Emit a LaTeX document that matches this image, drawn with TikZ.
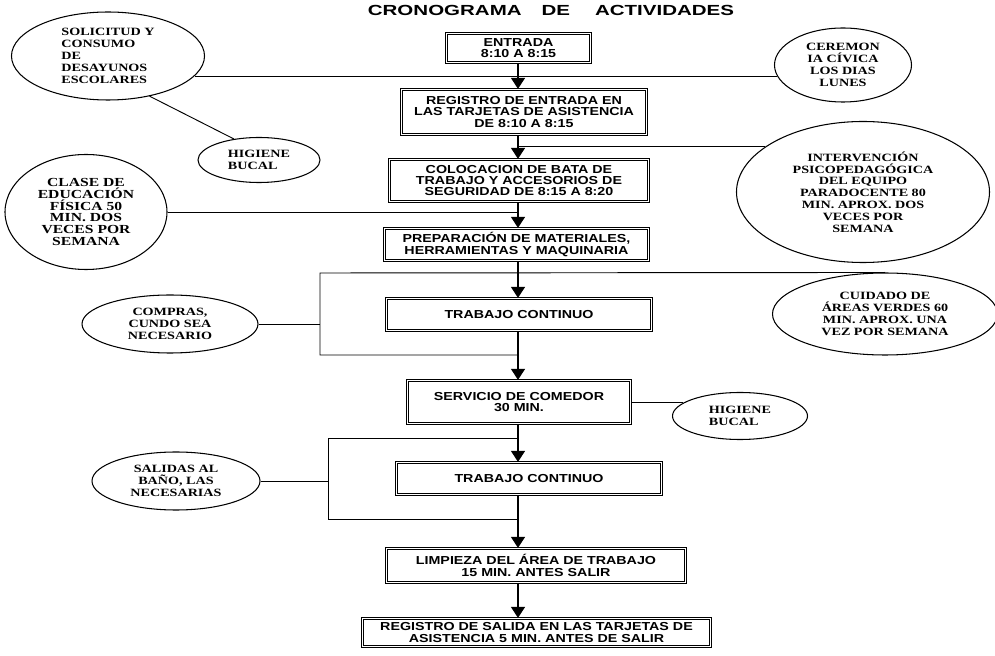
\documentclass[tikz,border=0pt]{standalone}
\usepackage{fontspec}
\usetikzlibrary{positioning,shapes.geometric,arrows.meta,calc}
\newfontfamily\cajafont[FakeStretch=1.23]{Liberation Sans}
\newfontfamily\ovalofont[FakeStretch=1.27]{Liberation Serif}
\newfontfamily\titulofont[FakeStretch=1.4]{Liberation Sans}
\tikzset{
	%Define standard arrow tip
	>={Triangle[length=3.3mm,width=4.2mm]},
	%Define style for boxes
	caja/.style={
		rectangle,
		draw=black, line width=0.75pt,
		double, double distance=1.3pt,
		align=center,
		inner sep=2pt,
		font=\cajafont\bfseries\fontsize{9.9}{9.8}\selectfont},
	%Define style for ovals
	ovalo/.style={
		ellipse,
		draw=black, line width=0.9pt,
		inner sep=0pt,
		align=center,
		font=\ovalofont\bfseries\fontsize{9.5}{10.1}\selectfont},
	% Define arrow style
	pil/.style={
		->,
		line width=1pt},
	% Define connector style
	linea/.style={
		line width=0.8pt}
}

\begin{document}
\begin{tikzpicture}[x=0.03cm, y=-0.03cm]
	\useasboundingbox (0,0) rectangle (995,656);
	\coordinate (eje) at (518,0);
	\node[font=\titulofont\bfseries\fontsize{12.5}{14}\selectfont] (titulo) at (551,10)
		{CRONOGRAMA\hspace{0.6cm}DE\hspace{0.75cm}ACTIVIDADES};
	% central column
	\node[caja,minimum width=4.33cm,minimum height=0.88cm] (entrada) at (518.5,48) {ENTRADA\\8:10 A 8:15};
	\node[caja,minimum width=7.36cm,minimum height=1.36cm] (regent) at (524,112) {REGISTRO DE ENTRADA EN\\LAS TARJETAS DE ASISTENCIA\\DE 8:10 A 8:15};
	\node[caja,minimum width=7.78cm,minimum height=1.27cm] (bata) at (519,180.5) {COLOCACION DE BATA DE\\TRABAJO Y ACCESORIOS DE\\SEGURIDAD DE 8:15 A 8:20};
	\node[caja,minimum width=7.93cm,minimum height=0.97cm] (prep) at (516.5,244.5) {PREPARACIÓN DE MATERIALES,\\HERRAMIENTAS Y MAQUINARIA};
	\node[caja,minimum width=7.96cm,minimum height=0.97cm] (trab1) at (519,314.5) {TRABAJO CONTINUO};
	\node[caja,minimum width=6.70cm,minimum height=1.30cm] (comedor) at (519,402) {SERVICIO DE COMEDOR\\30 MIN.};
	\node[caja,minimum width=7.96cm,minimum height=0.97cm] (trab2) at (529,478.5) {TRABAJO CONTINUO};
	\node[caja,minimum width=8.98cm,minimum height=1.03cm] (limpieza) at (536,565.5) {LIMPIEZA DEL ÁREA DE TRABAJO\\15 MIN. ANTES SALIR};
	\node[caja,minimum width=10.45cm,minimum height=0.85cm] (regsal) at (536.5,632.5) {REGISTRO DE SALIDA EN LAS TARJETAS DE\\ASISTENCIA 5 MIN. ANTES DE SALIR};
	% ovals
	\node[ovalo,align=left,minimum width=5.79cm,minimum height=2.64cm] (sol) at (108,56) {SOLICITUD Y\\CONSUMO\\DE\\DESAYUNOS\\ESCOLARES};
	\node[ovalo,align=left,minimum width=3.66cm,minimum height=1.35cm] (hig1) at (259,160) {HIGIENE\\BUCAL};
	\node[ovalo,font=\ovalofont\bfseries\fontsize{10.5}{10}\selectfont,minimum width=4.86cm,minimum height=3.45cm] (clase) at (86,212) {CLASE DE\\EDUCACIÓN\\FÍSICA 50\\MIN. DOS\\VECES POR\\SEMANA};
	\node[ovalo,minimum width=5.28cm,minimum height=1.74cm] (compras) at (170,324) {COMPRAS,\\CUNDO SEA\\NECESARIO};
	\node[ovalo,minimum width=5.04cm,minimum height=1.74cm] (salidas) at (176,481) {SALIDAS AL\\BAÑO, LAS\\NECESARIAS};
	\node[ovalo,minimum width=4.11cm,minimum height=2.22cm] (cer) at (843,65) {CEREMON\\IA CÍVICA\\LOS DIAS\\LUNES};
	\node[ovalo,minimum width=7.59cm,minimum height=4.23cm] (interv) at (863,192) {INTERVENCIÓN\\PSICOPEDAGÓGICA\\DEL EQUIPO\\PARADOCENTE 80\\MIN. APROX. DOS\\VECES POR\\SEMANA};
	\node[ovalo,minimum width=6.75cm,minimum height=2.46cm] (cuidado) at (885,314) {CUIDADO DE\\ÁREAS VERDES 60\\MIN. APROX. UNA\\VEZ POR SEMANA};
	\node[ovalo,align=left,minimum width=4.05cm,minimum height=1.41cm] (hig2) at (740,416) {HIGIENE\\BUCAL};
	% brackets
	\coordinate (b1a) at (320,273);
	\coordinate (b1b) at (320,355);
	\coordinate (b2a) at (328,438);
	\coordinate (b2b) at (328,519);
	% connectors
	\draw[linea] (sol.-13) -- (sol.-13 -| cer.190);
	\draw[linea] (sol.-44) -- (hig1.140);
	\draw[linea] (interv.155) -- (interv.155 -| eje);
	\draw[linea] (clase.east) -- (clase.east -| eje);
	\draw[linea] (cuidado.north) -- (b1a) -- (b1b) -- (b1b -| eje);
	\draw[linea] (compras.east) -- (compras.east -| b1a);
	\draw[linea] (hig2.167) -- (hig2.167 -| comedor.east);
	\draw[linea] (b2a -| eje) -- (b2a) -- (b2b) -- (b2b -| eje);
	\draw[linea] (salidas.east) -- (salidas.east -| b2a);
	% arrows
	\foreach \a/\b in {entrada/regent,regent/bata,bata/prep,prep/trab1,trab1/comedor,comedor/trab2,trab2/limpieza,limpieza/regsal}
		\draw[pil] (\a.south -| eje) -- (\b.north -| eje);
\end{tikzpicture}
\end{document}
